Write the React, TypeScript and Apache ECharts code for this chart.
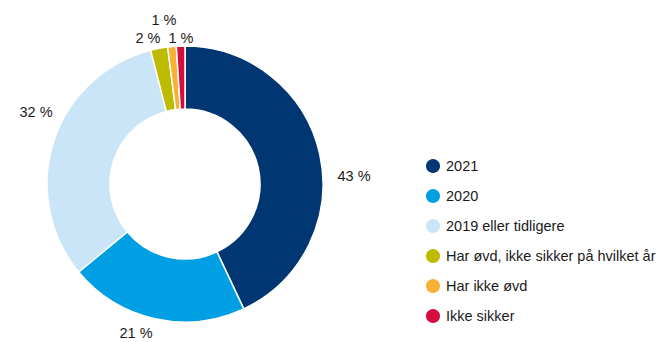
import React, { useEffect, useRef } from "react";
import * as echarts from "echarts";

const categories = [
  "2021",
  "2020",
  "2019 eller tidligere",
  "Har øvd, ikke sikker på hvilket år",
  "Har ikke øvd",
  "Ikke sikker",
];
const values = [43, 21, 32, 2, 1, 1];
const colors = ["#003671", "#009fe3", "#c9e5f7", "#bdbb00", "#f8b133", "#d50c3f"];
// label centre positions (layout)
const labelPos: [number, number][] = [
  [354, 176],
  [136, 333],
  [36, 112],
  [148, 38],
  [164, 20],
  [181, 38],
];

const FONT = "Liberation Sans, Arial, Helvetica, sans-serif";

export default function App() {
  const ref = useRef<HTMLDivElement>(null);
  useEffect(() => {
    if (!ref.current) return;
    const chart = echarts.init(ref.current, null, { renderer: "svg" });
    chart.setOption({
      animation: false,
      backgroundColor: "#ffffff",
      legend: {
        orient: "vertical",
        left: 419,
        top: 152,
        height: 190,
        icon: "circle",
        itemWidth: 16,
        itemHeight: 16,
        itemGap: 12,
        textStyle: { fontSize: 14.5, lineHeight: 16, color: "#1a1a1a", fontFamily: FONT },
        data: categories,
      },
      series: [
        {
          type: "pie",
          center: [185, 184],
          radius: [75, 138],
          startAngle: 90,
          clockwise: true,
          avoidLabelOverlap: false,
          itemStyle: { borderColor: "#ffffff", borderWidth: 1.5 },
          label: {
            show: true,
            position: "outside",
            formatter: "{c} %",
            fontSize: 14.5,
            color: "#1a1a1a",
            fontFamily: FONT,
          },
          labelLine: { show: false },
          labelLayout: (params: any) => {
            const p = labelPos[params.dataIndex];
            return { x: p[0], y: p[1], align: "center", verticalAlign: "middle" };
          },
          emphasis: { disabled: true },
          data: categories.map((name, i) => ({
            name,
            value: values[i],
            itemStyle: { color: colors[i] },
          })),
        },
      ],
    });
    return () => chart.dispose();
  }, []);
  return (
    <div
      ref={ref}
      style={{ position: "absolute", left: 0, top: 0, width: 667, height: 342 }}
    />
  );
}
